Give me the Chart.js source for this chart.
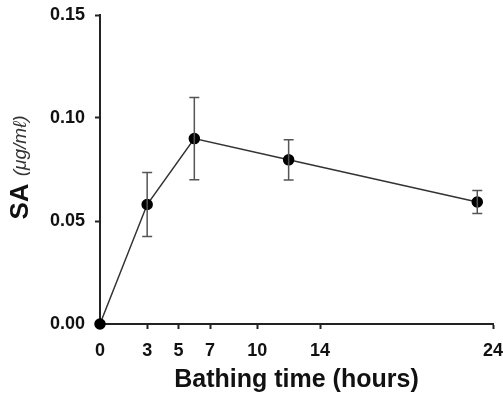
<!DOCTYPE html>
<html>
<head>
<meta charset="utf-8">
<script src="https://cdn.jsdelivr.net/npm/chart.js@4/dist/chart.umd.min.js"></script>
<style>
    body { margin: 0; background: #fff; }
</style>
</head>
<body>
<canvas id="chart" width="503" height="396"></canvas>
<script>
// Data
const hours = [0, 3, 6, 12, 24];
const meanSA = [0, 0.058, 0.090, 0.0797, 0.0592];
const sdSA = [0, 0.0155, 0.020, 0.0098, 0.0056];

// Axis ticks (the last tick sits at the end of the axis and reads "24")
const xTickValues = [0, 3, 5, 7, 10, 14, 25];
const xTickLabels = ['0', '3', '5', '7', '10', '14', '24'];
const yTickValues = [0, 0.05, 0.10, 0.15];

const FONT = 'Arial, "Liberation Sans", sans-serif';

// Error bars drawn from the sd array
const errorBars = {
    id: 'errorBars',
    afterDatasetsDraw(chart) {
        const { ctx, scales: { x, y } } = chart;
        ctx.save();
        ctx.strokeStyle = '#555';
        ctx.lineWidth = 1.5;
        hours.forEach((h, i) => {
            if (!sdSA[i]) return;
            const px = x.getPixelForValue(h);
            const top = y.getPixelForValue(meanSA[i] + sdSA[i]);
            const bot = y.getPixelForValue(meanSA[i] - sdSA[i]);
            ctx.beginPath();
            ctx.moveTo(px, top); ctx.lineTo(px, bot);
            ctx.moveTo(px - 5, top); ctx.lineTo(px + 5, top);
            ctx.moveTo(px - 5, bot); ctx.lineTo(px + 5, bot);
            ctx.stroke();
        });
        ctx.restore();
    }
};

// Y axis title with a bold "SA" and a lighter unit
const yTitle = {
    id: 'yTitle',
    afterDraw(chart) {
        const { ctx, chartArea } = chart;
        const main = 'SA ';
        const unit = '(μg/mℓ)';
        ctx.save();
        ctx.translate(21, (chartArea.top + chartArea.bottom) / 2 - 2);
        ctx.rotate(-Math.PI / 2);
        ctx.textBaseline = 'middle';
        ctx.fillStyle = '#111';
        ctx.font = 'bold 26px ' + FONT;
        const w1 = ctx.measureText(main).width;
        ctx.font = 'italic 19px ' + FONT;
        const w2 = ctx.measureText(unit).width;
        let start = -(w1 + w2) / 2;
        ctx.font = 'bold 26px ' + FONT;
        ctx.fillText(main, start, 0);
        ctx.font = 'italic 19px ' + FONT;
        ctx.fillStyle = '#333';
        ctx.fillText(unit, start + w1, 0);
        ctx.restore();
    }
};

const ctx = document.getElementById('chart').getContext('2d');

new Chart(ctx, {
    type: 'line',
    data: {
        datasets: [{
            data: hours.map((h, i) => ({ x: h, y: meanSA[i] })),
            borderColor: '#333',
            borderWidth: 1.5,
            pointBackgroundColor: '#000',
            pointBorderColor: '#000',
            pointRadius: 5,
            tension: 0,
            clip: false
        }]
    },
    options: {
        responsive: false,
        animation: false,
        layout: { padding: { top: 0, right: 0, left: 44, bottom: 0 } },
        plugins: {
            legend: { display: false },
            tooltip: { enabled: false }
        },
        scales: {
            x: {
                type: 'linear',
                min: 0,
                max: 25,
                afterBuildTicks: s => { s.ticks = xTickValues.map(v => ({ value: v })); },
                afterFit: s => { s.height = 72; s.paddingRight = 10; },
                ticks: {
                    autoSkip: false,
                    maxRotation: 0,
                    padding: 11,
                    color: '#111',
                    font: { family: FONT, size: 18, weight: 'bold' },
                    callback: (v) => xTickLabels[xTickValues.indexOf(v)]
                },
                grid: { drawOnChartArea: false, drawTicks: true, tickLength: 5, tickWidth: 2, color: '#222' },
                border: { display: true, color: '#222', width: 2 },
                title: {
                    display: true,
                    text: 'Bathing time (hours)',
                    color: '#111',
                    font: { family: FONT, size: 25, weight: 'bold' },
                    padding: { top: 4, bottom: 1 }
                }
            },
            y: {
                min: 0,
                max: 0.15,
                afterBuildTicks: s => { s.ticks = yTickValues.map(v => ({ value: v })); },
                afterFit: s => { s.width = 56; s.paddingTop = 15; },
                ticks: {
                    padding: 10,
                    color: '#111',
                    font: { family: FONT, size: 18, weight: 'bold' },
                    callback: v => v.toFixed(2)
                },
                grid: { drawOnChartArea: false, drawTicks: true, tickLength: 5, tickWidth: 2, color: '#222' },
                border: { display: true, color: '#222', width: 2 }
            }
        }
    },
    plugins: [errorBars, yTitle]
});
</script>
</body>
</html>
